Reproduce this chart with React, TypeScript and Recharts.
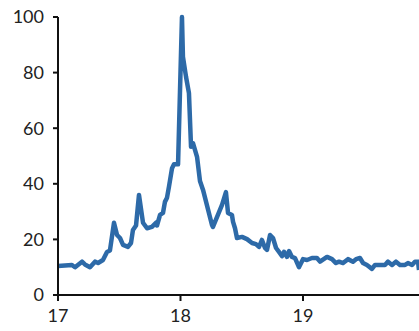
import React from "react";
import { LineChart, Line, XAxis, YAxis } from "recharts";

// time in years (17 = start of 2017)
const years = [
  17.0, 17.114, 17.139, 17.196, 17.22, 17.261, 17.302, 17.327, 17.367, 17.4,
  17.424, 17.457, 17.482, 17.506, 17.531, 17.571, 17.596, 17.612, 17.637, 17.661,
  17.694, 17.727, 17.767, 17.8, 17.808, 17.833, 17.857, 17.873, 17.89, 17.906,
  17.931, 17.947, 17.98, 18.012, 18.02, 18.045, 18.069, 18.086, 18.102, 18.135,
  18.159, 18.184, 18.257, 18.265, 18.339, 18.371, 18.388, 18.42, 18.429, 18.445,
  18.461, 18.502, 18.543, 18.584, 18.616, 18.641, 18.665, 18.69, 18.706, 18.731,
  18.755, 18.78, 18.804, 18.829, 18.845, 18.869, 18.886, 18.91, 18.935, 18.967,
  19.0, 19.033, 19.073, 19.114, 19.139, 19.196, 19.237, 19.269, 19.294, 19.327,
  19.367, 19.408, 19.433, 19.465, 19.49, 19.522, 19.563, 19.588, 19.629, 19.669,
  19.694, 19.727, 19.759, 19.792, 19.833, 19.857, 19.89, 19.914, 19.939, 19.947,
];

const values = [
  10.4, 10.8, 10.0, 12.0, 11.0, 10.0, 12.0, 11.5, 12.6, 15.5,
  16.0, 26.0, 21.6, 20.5, 18.0, 17.3, 18.7, 23.4, 25.0, 36.0,
  26.0, 24.0, 24.5, 26.0, 25.0, 28.8, 29.5, 33.5, 35.0, 39.0,
  45.6, 47.0, 47.0, 100, 85.7, 78.5, 72.6, 53.3, 54.6, 49.7,
  41.0, 37.8, 25.2, 24.5, 32.4, 37.0, 29.5, 28.8, 26.3, 24.0,
  20.5, 20.9, 20.1, 18.7, 18.3, 17.3, 19.8, 16.9, 16.2, 21.6,
  20.5, 16.9, 15.5, 14.0, 15.5, 13.7, 15.8, 13.7, 13.3, 10.0,
  12.9, 12.6, 13.3, 13.3, 12.0, 13.7, 12.9, 11.5, 12.0, 11.5,
  12.9, 12.0, 12.9, 13.3, 11.5, 10.8, 9.4, 10.8, 10.8, 10.8,
  12.0, 10.8, 12.0, 10.8, 10.8, 11.5, 10.8, 12.0, 12.0, 9.0,
];

const xTicks = [17, 18, 19];
const yTicks = [0, 20, 40, 60, 80, 100];

const data = years.map((t, i) => ({ t, v: values[i] }));

const tickStyle = { fill: "#222", fontSize: 18, fontFamily: "Lato, 'Open Sans', sans-serif" };
const axisStroke = { stroke: "#111", strokeWidth: 2 };

export default function App() {
  return (
    <div style={{ position: "absolute", left: 0, top: 0, width: 419, height: 331, background: "#fff" }}>
      <LineChart width={419} height={331} data={data} margin={{ top: 17, right: 0, bottom: 0, left: 0 }}>
        <XAxis
          dataKey="t"
          type="number"
          domain={[17, 19.947]}
          ticks={xTicks}
          tick={tickStyle}
          tickSize={6}
          tickMargin={8}
          height={36}
          axisLine={axisStroke}
          tickLine={axisStroke}
        />
        <YAxis
          domain={[0, 100]}
          ticks={yTicks}
          tick={tickStyle}
          tickSize={5}
          tickMargin={9}
          width={58}
          axisLine={axisStroke}
          tickLine={axisStroke}
        />
        <Line
          type="linear"
          dataKey="v"
          stroke="#2d6aa8"
          strokeWidth={4.5}
          dot={false}
          isAnimationActive={false}
          strokeLinejoin="round"
        />
      </LineChart>
    </div>
  );
}
